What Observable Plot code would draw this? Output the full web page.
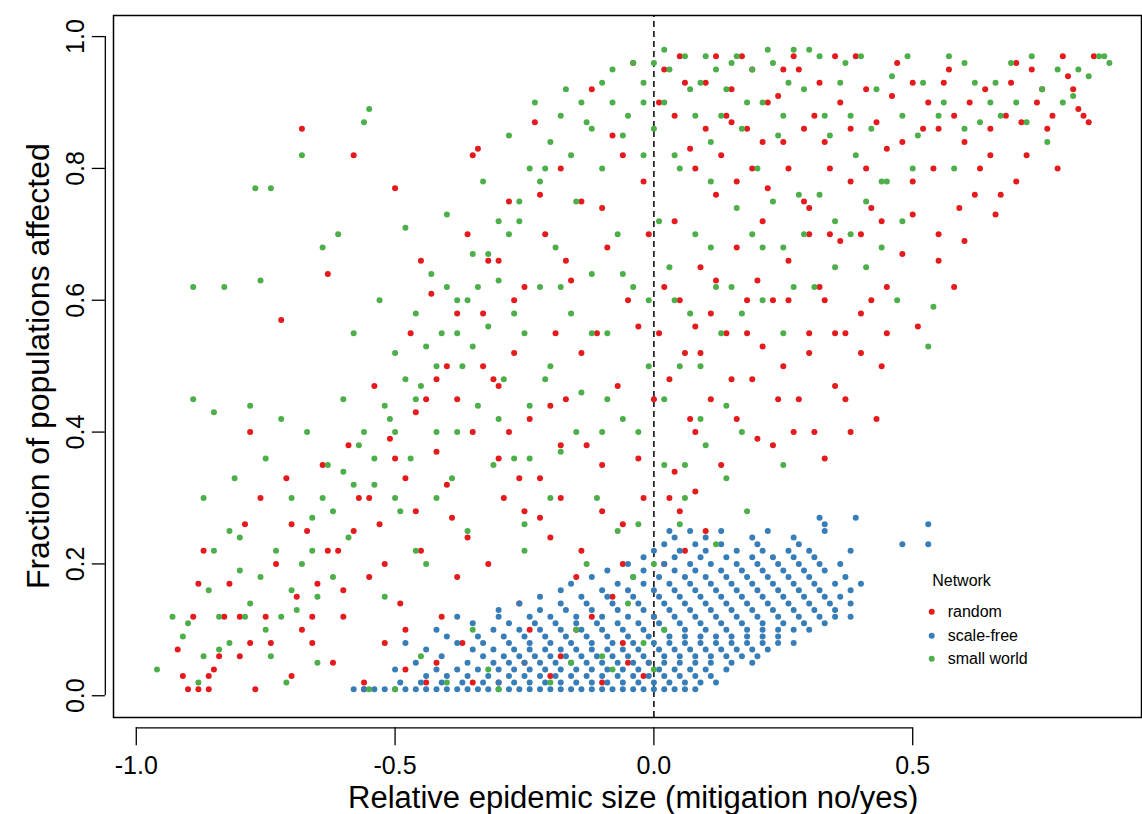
<!DOCTYPE html>
<html><head><meta charset="utf-8">
<script src="https://cdn.jsdelivr.net/npm/d3@7"></script>
<script src="https://cdn.jsdelivr.net/npm/@observablehq/plot@0.6"></script>
<style>body{margin:0;background:#fff}</style>
</head><body><div id="chart"></div>
<script>
const randomPts = "-0.92,0.07 -0.9,0.01 -0.88,0.01 -0.89,0.12 -0.87,0.22 -0.85,0.04 -0.83,0.12 -0.82,0.17 -0.8,0.06 -0.79,0.26 -0.78,0.4 -0.77,0.01 -0.76,0.3 -0.75,0.12 -0.73,0.2 -0.72,0.57 -0.71,0.33 -0.7,0.03 -0.69,0.15 -0.68,0.86 -0.67,0.25 -0.66,0.08 -0.65,0.17 -0.64,0.35 -0.63,0.64 -0.62,0.05 -0.61,0.22 -0.6,0.12 -0.59,0.38 -0.58,0.82 -0.57,0.3 -0.56,0.02 -0.55,0.18 -0.54,0.47 -0.53,0.26 -0.52,0.08 -0.51,0.39 -0.5,0.77 -0.49,0.14 -0.48,0.33 -0.47,0.55 -0.46,0.43 -0.45,0.22 -0.44,0.02 -0.43,0.61 -0.42,0.37 -0.41,0.12 -0.4,0.5 -0.39,0.27 -0.38,0.45 -0.37,0.08 -0.36,0.7 -0.35,0.4 -0.34,0.83 -0.33,0.58 -0.32,0.2 -0.31,0.48 -0.3,0.66 -0.29,0.3 -0.28,0.75 -0.27,0.52 -0.26,0.14 -0.25,0.62 -0.24,0.42 -0.23,0.87 -0.22,0.33 -0.21,0.7 -0.2,0.24 -0.19,0.55 -0.18,0.8 -0.17,0.45 -0.16,0.63 -0.15,0.1 -0.14,0.75 -0.13,0.38 -0.12,0.92 -0.11,0.55 -0.1,0.28 -0.09,0.68 -0.08,0.85 -0.07,0.47 -0.06,0.2 -0.05,0.6 -0.04,0.96 -0.03,0.36 -0.02,0.78 -0.01,0.05 0.0,0.45 0.01,0.9 0.02,0.62 0.03,0.3 0.04,0.72 0.05,0.97 0.06,0.52 0.07,0.83 0.08,0.4 0.09,0.65 0.1,0.93 0.11,0.58 0.12,0.76 0.13,0.35 0.14,0.88 0.15,0.48 0.16,0.68 0.17,0.97 0.18,0.55 0.19,0.8 0.2,0.39 0.21,0.72 0.22,0.9 0.23,0.6 0.24,0.45 0.25,0.84 0.26,0.66 0.27,0.4 0.28,0.95 0.29,0.75 0.3,0.55 0.31,0.88 0.32,0.62 0.33,0.36 0.34,0.8 0.35,0.97 0.36,0.69 0.37,0.45 0.38,0.86 0.4,0.58 0.41,0.92 0.42,0.74 0.44,0.5 0.45,0.83 0.47,0.96 0.48,0.67 0.5,0.78 0.51,0.56 0.53,0.9 0.55,0.7 0.57,0.95 0.58,0.62 0.6,0.84 0.62,0.76 0.64,0.92 0.66,0.73 0.68,0.88 0.7,0.96 0.72,0.82 0.74,0.9 0.76,0.86 0.78,0.8 0.8,0.94 0.82,0.89 0.84,0.87 0.85,0.97 0.05,0.28 0.1,0.25 -0.3,0.02 -0.2,0.03 -0.1,0.02 0.0,0.12 -0.05,0.05 -0.15,0.18 -0.25,0.05 -0.35,0.02 -0.42,0.05 0.02,0.2 0.08,0.56 0.15,0.87 0.2,0.63 0.25,0.95 0.3,0.7 0.35,0.55 0.4,0.7 0.45,0.62 0.5,0.93 0.55,0.86 0.6,0.69 0.65,0.82 0.7,0.78 -0.08,0.15 -0.18,0.3 -0.28,0.4 -0.38,0.18 -0.48,0.1 -0.58,0.25 -0.68,0.1 -0.78,0.08 -0.86,0.03 " +
"0.02,0.95 0.04,0.88 0.06,0.93 0.08,0.8 0.1,0.86 0.12,0.97 0.13,0.82 0.15,0.92 0.16,0.78 0.18,0.86 0.19,0.95 0.21,0.84 0.22,0.77 0.24,0.91 0.26,0.8 0.27,0.97 0.29,0.86 0.3,0.74 0.32,0.93 0.33,0.84 0.34,0.7 0.36,0.9 0.38,0.78 0.39,0.97 0.41,0.8 0.43,0.87 0.44,0.72 0.46,0.91 0.48,0.84 0.5,0.73 0.52,0.86 0.54,0.8 0.55,0.66 0.56,0.93 0.58,0.88 0.59,0.74 0.61,0.9 0.63,0.8 0.65,0.86 0.67,0.76 0.69,0.93 0.71,0.87 0.73,0.95 0.75,0.92 0.77,0.88 0.79,0.97 0.81,0.92 0.83,0.88 " +
"0.01,0.55 0.03,0.48 0.05,0.6 0.07,0.42 0.09,0.52 0.11,0.45 0.12,0.63 0.14,0.55 0.16,0.42 0.18,0.6 0.19,0.48 0.21,0.53 0.23,0.38 0.25,0.5 0.26,0.6 0.28,0.45 0.3,0.52 0.31,0.4 0.33,0.6 0.35,0.47 0.37,0.55 0.38,0.4 0.4,0.52 0.42,0.6 0.43,0.42 0.45,0.55 " +
"-0.02,0.3 0.04,0.34 0.06,0.22 0.08,0.31 -0.06,0.26 -0.1,0.35 -0.14,0.22 -0.18,0.38 -0.22,0.27 -0.26,0.33 " +
"-0.3,0.36 -0.33,0.5 -0.36,0.24 -0.4,0.32 -0.44,0.45 -0.46,0.28 -0.5,0.36 -0.52,0.2 -0.55,0.3 -0.6,0.16 -0.63,0.22 -0.66,0.12 -0.7,0.26 -0.74,0.08 -0.8,0.12 -0.84,0.06 -0.88,0.17 -0.91,0.03 -0.86,0.01 -0.56,0.01 -0.48,0.04 -0.24,0.1 -0.18,0.06 -0.12,0.12 -0.06,0.08 -0.02,0.03 " +
"-0.35,0.82 -0.32,0.66 -0.27,0.6 -0.22,0.76 -0.17,0.66 -0.14,0.52 -0.1,0.74 -0.06,0.82 -0.03,0.56 -0.01,0.7 -0.2,0.44 -0.25,0.28 -0.3,0.47 -0.38,0.58 -0.42,0.48 -0.45,0.66";
const smallWorldPts = "-0.96,0.04 -0.93,0.12 -0.91,0.09 -0.89,0.62 -0.89,0.45 -0.88,0.02 -0.87,0.3 -0.86,0.16 -0.85,0.43 -0.84,0.07 -0.83,0.62 -0.82,0.25 -0.81,0.33 -0.8,0.19 -0.79,0.12 -0.78,0.44 -0.77,0.77 -0.76,0.63 -0.75,0.36 -0.74,0.77 -0.73,0.22 -0.72,0.42 -0.71,0.02 -0.7,0.3 -0.69,0.13 -0.68,0.82 -0.67,0.4 -0.66,0.27 -0.65,0.05 -0.64,0.68 -0.63,0.35 -0.62,0.18 -0.61,0.7 -0.6,0.45 -0.59,0.24 -0.58,0.55 -0.57,0.38 -0.56,0.87 -0.55,0.89 -0.54,0.32 -0.53,0.6 -0.52,0.15 -0.51,0.42 -0.5,0.52 -0.49,0.28 -0.48,0.71 -0.47,0.36 -0.46,0.58 -0.45,0.47 -0.44,0.2 -0.43,0.64 -0.42,0.4 -0.41,0.55 -0.4,0.73 -0.39,0.33 -0.38,0.6 -0.37,0.5 -0.36,0.25 -0.35,0.67 -0.34,0.44 -0.33,0.78 -0.32,0.56 -0.31,0.35 -0.3,0.63 -0.29,0.48 -0.28,0.85 -0.27,0.36 -0.26,0.72 -0.25,0.55 -0.24,0.44 -0.23,0.9 -0.22,0.62 -0.21,0.8 -0.2,0.5 -0.19,0.68 -0.18,0.37 -0.17,0.92 -0.16,0.58 -0.15,0.75 -0.14,0.46 -0.13,0.87 -0.12,0.64 -0.11,0.3 -0.1,0.8 -0.09,0.55 -0.08,0.95 -0.07,0.7 -0.06,0.42 -0.05,0.88 -0.04,0.62 -0.03,0.26 -0.02,0.82 -0.01,0.5 0.0,0.86 0.01,0.72 0.02,0.45 0.03,0.95 0.04,0.6 0.05,0.8 0.06,0.35 0.07,0.92 0.08,0.7 0.09,0.5 0.1,0.97 0.11,0.78 0.12,0.62 0.13,0.88 0.14,0.44 0.15,0.96 0.16,0.74 0.17,0.58 0.18,0.9 0.2,0.8 0.21,0.68 0.22,0.98 0.24,0.85 0.25,0.55 0.26,0.93 0.28,0.76 0.3,0.98 0.31,0.62 0.33,0.88 0.35,0.72 0.37,0.96 0.39,0.82 0.41,0.65 0.43,0.92 0.45,0.78 0.47,0.6 0.49,0.97 0.51,0.85 0.53,0.53 0.54,0.59 0.56,0.9 0.58,0.8 0.6,0.96 0.63,0.87 0.66,0.93 0.7,0.9 0.73,0.97 0.76,0.84 0.79,0.9 0.82,0.95 0.86,0.97 0.88,0.96 -0.2,0.02 -0.1,0.06 0.0,0.04 -0.3,0.01 -0.15,0.1 0.0,0.2 0.05,0.26 0.12,0.23 -0.05,0.14 -0.25,0.22 -0.35,0.1 -0.45,0.06 -0.55,0.01 -0.65,0.15 -0.75,0.1 -0.85,0.22 0.0,0.96 0.02,0.98 -0.02,0.93 " +
"-0.02,0.9 -0.04,0.96 -0.06,0.85 -0.08,0.9 -0.1,0.93 -0.12,0.86 -0.14,0.9 -0.16,0.82 -0.18,0.88 -0.2,0.84 -0.22,0.78 -0.24,0.8 -0.26,0.75 -0.28,0.7 -0.3,0.72 -0.32,0.67 -0.34,0.62 -0.36,0.6 -0.38,0.55 -0.4,0.62 -0.42,0.5 -0.44,0.53 -0.46,0.45 -0.48,0.48 -0.5,0.4 -0.52,0.44 -0.54,0.36 -0.56,0.4 -0.58,0.32 -0.6,0.34 -0.62,0.28 -0.64,0.3 -0.66,0.22 -0.68,0.2 -0.7,0.16 -0.72,0.12 -0.74,0.06 -0.76,0.18 -0.78,0.14 -0.8,0.24 -0.82,0.08 -0.84,0.12 -0.87,0.06 -0.9,0.11 " +
"-0.3,0.42 -0.27,0.58 -0.24,0.36 -0.21,0.48 -0.18,0.62 -0.15,0.4 -0.12,0.55 -0.09,0.45 -0.06,0.64 -0.03,0.4 -0.01,0.6 -0.35,0.53 -0.38,0.4 -0.42,0.3 -0.46,0.22 -0.5,0.3 -0.25,0.26 -0.2,0.3 -0.1,0.4 -0.07,0.25 -0.13,0.2 -0.04,0.18 0.02,0.1 -0.02,0.08 -0.08,0.04 -0.16,0.05 -0.32,0.04 -0.4,0.02 -0.5,0.01 " +
"0.02,0.9 0.04,0.82 0.06,0.97 0.08,0.88 0.09,0.93 0.11,0.84 0.12,0.95 0.14,0.92 0.16,0.97 0.17,0.86 0.19,0.95 0.21,0.9 0.23,0.96 0.25,0.88 0.27,0.98 0.29,0.92 0.32,0.97 0.34,0.85 0.36,0.93 0.38,0.88 0.4,0.97 0.42,0.86 0.44,0.78 0.46,0.94 0.48,0.88 0.5,0.8 0.52,0.93 0.55,0.88 0.57,0.97 0.6,0.86 0.62,0.93 0.65,0.9 0.67,0.88 0.69,0.96 0.72,0.87 0.75,0.92 0.78,0.95 0.81,0.91 0.84,0.94 0.87,0.97 " +
"0.03,0.65 0.05,0.5 0.07,0.58 0.09,0.42 0.11,0.68 0.13,0.55 0.15,0.62 0.17,0.4 0.19,0.7 0.21,0.6 0.23,0.75 0.25,0.68 0.27,0.62 0.29,0.7 0.32,0.76 0.35,0.65 0.38,0.7 0.41,0.75 0.44,0.68 0.48,0.72 0.02,0.35 0.06,0.3 0.1,0.38 0.14,0.33 0.18,0.28 0.25,0.35";
const scaleFreeRows = {
  "0.01": [-0.58,-0.56,-0.54,-0.52,-0.5,-0.48,-0.46,-0.44,-0.42,-0.4,-0.38,-0.36,-0.34,-0.32,-0.3,-0.28,-0.26,-0.24,-0.22,-0.2,-0.18,-0.16,-0.14,-0.12,-0.1,-0.08,-0.06,-0.04,-0.02,0.0,0.02,0.04,0.06,0.08],
  "0.02": [-0.49,-0.45,-0.41,-0.37,-0.33,-0.3,-0.27,-0.24,-0.21,-0.18,-0.15,-0.12,-0.09,-0.06,-0.03,0.0,0.03,0.06,0.09,0.12],
  "0.03": [-0.44,-0.4,-0.36,-0.32,-0.28,-0.25,-0.22,-0.19,-0.16,-0.13,-0.1,-0.07,-0.04,-0.01,0.02,0.05,0.08,0.11],
  "0.04": [-0.5,-0.42,-0.38,-0.34,-0.3,-0.27,-0.24,-0.21,-0.18,-0.15,-0.12,-0.09,-0.06,-0.03,0.01,0.04,0.07,0.1,0.14],
  "0.05": [-0.46,-0.36,-0.31,-0.28,-0.25,-0.22,-0.19,-0.16,-0.13,-0.1,-0.07,-0.04,-0.01,0.02,0.05,0.08,0.11,0.15,0.19],
  "0.06": [-0.41,-0.33,-0.29,-0.26,-0.23,-0.2,-0.17,-0.14,-0.11,-0.08,-0.05,-0.02,0.02,0.05,0.08,0.11,0.14,0.17,0.2],
  "0.07": [-0.44,-0.35,-0.31,-0.27,-0.24,-0.21,-0.18,-0.15,-0.12,-0.09,-0.06,-0.03,0.01,0.04,0.07,0.1,0.13,0.16,0.19,0.22],
  "0.08": [-0.48,-0.38,-0.33,-0.28,-0.24,-0.2,-0.16,-0.12,-0.08,-0.04,0.0,0.03,0.06,0.09,0.12,0.15,0.18,0.21,0.24,0.27],
  "0.09": [-0.4,-0.34,-0.29,-0.25,-0.21,-0.17,-0.13,-0.09,-0.05,-0.01,0.03,0.06,0.09,0.12,0.15,0.18,0.21,0.24],
  "0.10": [-0.42,-0.31,-0.26,-0.22,-0.18,-0.14,-0.1,-0.06,-0.02,0.02,0.06,0.1,0.14,0.18,0.21,0.24,0.27,0.3],
  "0.11": [-0.35,-0.28,-0.23,-0.19,-0.15,-0.11,-0.07,-0.03,0.01,0.05,0.09,0.13,0.17,0.21,0.25,0.29,0.33],
  "0.12": [-0.38,-0.3,-0.24,-0.2,-0.15,-0.1,-0.05,0.0,0.04,0.08,0.12,0.16,0.2,0.24,0.28,0.32,0.35,0.38],
  "0.13": [-0.3,-0.22,-0.17,-0.12,-0.07,-0.02,0.03,0.07,0.11,0.15,0.19,0.23,0.27,0.31,0.35],
  "0.14": [-0.26,-0.18,-0.13,-0.08,-0.03,0.02,0.06,0.1,0.14,0.18,0.22,0.26,0.3,0.34,0.38],
  "0.15": [-0.22,-0.14,-0.09,-0.04,0.01,0.05,0.09,0.13,0.17,0.21,0.25,0.29,0.33,0.36],
  "0.16": [-0.18,-0.1,-0.05,0.0,0.04,0.08,0.12,0.16,0.2,0.24,0.28,0.32,0.38],
  "0.17": [-0.16,-0.07,-0.02,0.03,0.07,0.11,0.15,0.19,0.23,0.27,0.31,0.35,0.4],
  "0.18": [-0.12,-0.04,0.01,0.06,0.1,0.14,0.18,0.22,0.26,0.3,0.37],
  "0.19": [-0.09,-0.02,0.04,0.08,0.13,0.17,0.21,0.25,0.29,0.33],
  "0.20": [-0.05,0.02,0.07,0.11,0.16,0.2,0.24,0.28,0.32,0.36],
  "0.21": [-0.02,0.04,0.09,0.14,0.19,0.23,0.27,0.31],
  "0.22": [0.0,0.05,0.1,0.16,0.21,0.26,0.3,0.38],
  "0.23": [0.02,0.08,0.13,0.2,0.28,0.48,0.53],
  "0.24": [0.04,0.1,0.19,0.27],
  "0.25": [0.03,0.07,0.13,0.22,0.33],
  "0.26": [0.33,0.53],
  "0.27": [0.32,0.39]
};
const networks = ["random", "scale-free", "small world"];
const colors = ["#E41A1C", "#377EB8", "#4DAF4A"];
const xTicks = [-1, -0.5, 0, 0.5];
const yTicks = [0, 0.2, 0.4, 0.6, 0.8, 1.0];

const parse = (s, net) => s.trim().split(/\s+/).map(p => { const [x, y] = p.split(",").map(Number); return {x, y, net}; });
const data = [
  ...parse(randomPts, "random"),
  ...Object.entries(scaleFreeRows).flatMap(([y, xs]) => xs.map(x => ({x, y: +y, net: "scale-free"}))),
  ...parse(smallWorldPts, "small world")
];

const font = "Liberation Sans, Arial, sans-serif";
const yAx = -0.0486, yTk = -0.0759, xAx = -1.0598, xTk = -1.085;
const legX = 0.5367, legTX = 0.5676, legY = [0.1275, 0.091, 0.0561];
const legend = networks.map((n, i) => ({n, c: colors[i], y: legY[i]}));

const chart = Plot.plot({
  width: 1142, height: 814,
  marginLeft: 113, marginRight: 1, marginTop: 15, marginBottom: 97,
  x: {domain: [-1.044, 0.942], axis: null},
  y: {domain: [-0.033, 1.032], axis: null},
  style: {fontFamily: font, background: "#fff"},
  marks: [
    Plot.frame({stroke: "#000", strokeWidth: 1.5}),
    Plot.ruleX([0], {stroke: "#000", strokeWidth: 1.5, strokeDasharray: "6,4", y1: -0.033, y2: 1.032}),
    Plot.dot(data, {x: "x", y: "y", r: 3, fill: d => colors[networks.indexOf(d.net)], stroke: "none"}),
    Plot.ruleY([yAx], {x1: -1, x2: 0.5, stroke: "#000", strokeWidth: 1.3}),
    Plot.ruleX(xTicks, {y1: yAx, y2: yTk, stroke: "#000", strokeWidth: 1.3}),
    Plot.text(xTicks, {x: d => d, y: yTk, dy: 10, lineAnchor: "top", text: d => d3.format(".1f")(d).replace("−","-"), fontSize: 25, fill: "#000"}),
    Plot.text(["Relative epidemic size (mitigation no/yes)"], {x: -0.04, y: yTk, dy: 52, text: d => d, fontSize: 31, fill: "#000"}),
    Plot.ruleX([xAx], {y1: 0, y2: 1, stroke: "#000", strokeWidth: 1.3}),
    Plot.ruleY(yTicks, {x1: xAx, x2: xTk, stroke: "#000", strokeWidth: 1.3}),
    Plot.text(yTicks, {x: xTk, y: d => d, dx: -16, text: d => d3.format(".1f")(d), rotate: -90, fontSize: 25, fill: "#000"}),
    Plot.text(["Fraction of populations affected"], {x: xTk, y: 0.5, dx: -54, text: d => d, rotate: -90, fontSize: 32, fill: "#000"}),
    Plot.text(["Network"], {x: legTX - 0.03, y: 0.1745, text: d => d, fontSize: 16, textAnchor: "start", fill: "#000"}),
    Plot.dot(legend, {x: legX, y: "y", r: 3, fill: "c"}),
    Plot.text(legend, {x: legTX, y: "y", text: "n", fontSize: 16, textAnchor: "start", fill: "#000"})
  ]
});
document.getElementById("chart").append(chart);
</script>
</body></html>
